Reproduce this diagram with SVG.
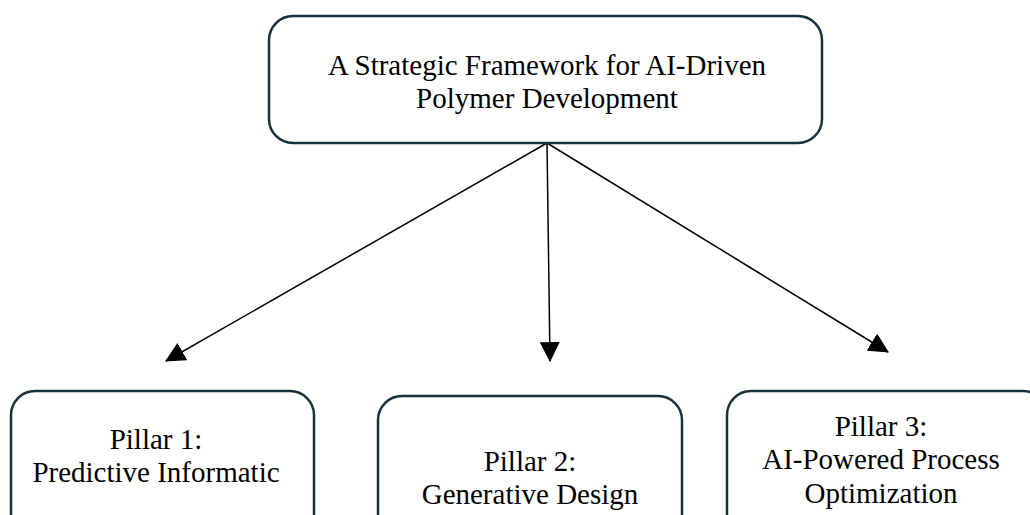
<svg xmlns="http://www.w3.org/2000/svg" width="1030" height="515" viewBox="0 0 1030 515">
<style>
.box{fill:#fff;stroke:#17313f;stroke-width:2.5}
.t{font-family:"Liberation Serif","Times New Roman",serif;font-size:29px;fill:#000;text-anchor:middle}
.c{stroke:#000;stroke-width:1.5;fill:none}
</style>
<defs>
<marker id="ah" markerUnits="userSpaceOnUse" markerWidth="20" markerHeight="20" viewBox="0 0 18 18" refX="17" refY="9" orient="auto">
<path d="M0,0 L18,9 L0,18 z" fill="#000"/>
</marker>
</defs>
<rect width="1030" height="515" fill="#fff"/>
<g id="connectors">
<line class="c" x1="547" y1="143" x2="166" y2="361" marker-end="url(#ah)"/>
<line class="c" x1="547" y1="143" x2="550" y2="361" marker-end="url(#ah)"/>
<line class="c" x1="547" y1="143" x2="888" y2="352" marker-end="url(#ah)"/>
</g>
<g id="root">
<rect class="box" x="269" y="16" width="553" height="127" rx="24"/>
<text class="t" x="547" y="75">A Strategic Framework for AI-Driven</text>
<text class="t" x="547" y="108">Polymer Development</text>
</g>
<g id="pillar1">
<rect class="box" x="11" y="391" width="303" height="150" rx="24"/>
<text class="t" x="156" y="449">Pillar 1:</text>
<text class="t" x="156" y="482">Predictive Informatic</text>
</g>
<g id="pillar2">
<rect class="box" x="378" y="396" width="304" height="150" rx="24"/>
<text class="t" x="530" y="471">Pillar 2:</text>
<text class="t" x="530" y="504">Generative Design</text>
</g>
<g id="pillar3">
<rect class="box" x="727" y="391" width="320" height="150" rx="24"/>
<text class="t" x="881" y="436">Pillar 3:</text>
<text class="t" x="881" y="469">AI-Powered Process</text>
<text class="t" x="881" y="503">Optimization</text>
</g>
</svg>
